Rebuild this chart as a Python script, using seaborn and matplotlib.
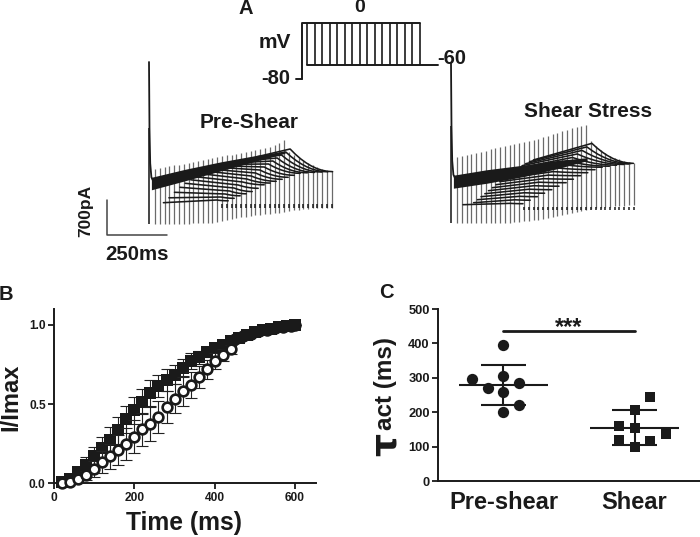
import numpy as np, pandas as pd
import matplotlib
matplotlib.use("Agg")
import matplotlib.pyplot as plt
import seaborn as sns

sns.set_theme(style="ticks")
plt.rcParams['font.family'] = ['Liberation Sans', 'DejaVu Sans']
plt.rcParams['font.weight'] = 'bold'
W, H = 700, 537

# ---------- Panel B ----------
pre_t = [20,40,60,80,100,120,140,160,180,200,220,240,260,280,300,320,340,360,380,400,420,440,460,480,500,520,540,560,580,600]
pre_i = [.01,.03,.07,.115,.17,.22,.275,.335,.405,.46,.515,.57,.615,.65,.685,.73,.77,.795,.83,.855,.875,.90,.92,.935,.955,.965,.975,.985,.99,1.0]
pre_e = [.005,.01,.03,.05,.06,.075,.08,.085,.085,.085,.08,.08,.07,.07,.06,.055,.05,.04,.03,.025,.02,.02,.015,.01,.01,.01,.005,.005,.005,0]
sh_t = [20,40,60,80,100,120,140,160,180,200,220,240,260,280,300,320,340,360,380,400,420,440]
sh_i = [.003,.01,.025,.05,.09,.135,.17,.21,.25,.295,.34,.375,.42,.48,.535,.58,.62,.67,.72,.77,.81,.845]
sh_e = [.003,.005,.015,.03,.05,.07,.08,.095,.10,.105,.105,.105,.10,.10,.09,.09,.08,.07,.06,.05,.04,.03]
end_t = [450,470,490,510,530,550,570,590,600]
end_i = [.91,.93,.945,.96,.97,.98,.988,.995,1.0]

# ---------- Panel C ----------
groups = ["Pre-shear", "Shear"]
pre_pos = [0,-.24,0,.12,-.12,0,.12,0]
pre_tau = [395,297,305,285,270,258,220,202]
shear_pos = [.12,0,-.12,0,.24,-.12,.12,0]
shear_tau = [244,207,161,153,138,118,116,98]
means = [280,155]
sds = [58,50]

# ---------- Panel A ----------
step_ms = [25,45,65,85,105,125,145,165,184,204,224,244,264,284,304,324,344,364,384,403,423,443,463,483,503,523,543,563,583,603,623,642,662,682,702,722,742,762]
pre_top = [690,700,720,740,760,770,790,810,830,840,860,880,900,920,940,960,970,990,1010,1030,1050,1070,1090,1110,1130,1170,1200,1265,1020,960,900,850,800,760,720,690,660,640]
pre_bot = [-410,-410,-410,-410,-410,-405,-405,-405,-400,-400,-400,-395,-390,-380,-360,-340,-320,-300,-280,-270,-250,-240,-230,-220,-210,-200,-190,-170,-150,-140,-130,-120,-110,-100,-100,-100,-100,-100]
sh_top = [980,1000,1020,1040,1060,1080,1100,1130,1150,1170,1190,1210,1230,1250,1270,1300,1320,1340,1370,1400,1430,1460,1490,1520,1550,1580,1600,1614,1300,1200,1120,1060,1000,960,930,900,870,850]
sh_bot = [-350,-350,-350,-350,-350,-350,-350,-350,-350,-350,-350,-340,-330,-320,-310,-300,-290,-280,-270,-250,-230,-210,-190,-170,-150,-130,-110,-90,-70,-50,-40,-30,-20,-10,0,0,10,20]
spike_ms = [0,2,5,10,20,35]
pre_spike = [2826,1500,800,520,420,380]
sh_spike = [2850,1600,900,620,520,480]
band_ms = [10,150,300,450,567]
pre_band_hi = [520,680,830,960,1030]
pre_band_lo = [270,450,650,850,1000]
sh_band_hi = [610,720,810,910,960]
sh_band_lo = [350,450,580,750,900]
pre_fan_t0 = [60,83,106,129,151,174,197,220,243,266,289,312,334,357,380,403,426,449]
pre_fan_i0 = [12,110,220,320,400,470,530,590,640,680,720,750,780,810,840,870,900,930]
pre_fan_t1 = [282,300,318,336,354,372,390,408,426,444,462,480,498,516,534,552,570,588]
pre_fan_i1 = [66,126,186,246,306,366,426,486,546,606,666,726,786,846,906,966,1026,1086]
pre_fan_t2 = [330,355,380,405,430,455,480,505,530,555,580,605,630,660,690,720,745,765]
pre_fan_i2 = [50,100,150,190,235,300,370,405,440,480,520,560,600,610,618,625,630,633]
sh_fan_t0 = [50,94,110,125,141,156,172,187,203,218,234,249,265,280,296,311,327,343]
sh_fan_i0 = [20,60,120,180,240,300,360,420,480,540,600,650,700,750,800,840,880,914]
sh_fan_t1 = [246,266,286,306,326,346,366,386,406,426,446,466,486,506,526,546,566,587]
sh_fan_i1 = [47,118,188,259,330,400,470,541,612,682,753,824,894,965,1035,1106,1176,1247]
sh_fan_t2 = [300,330,360,390,420,450,480,510,540,570,600,630,660,690,720,740,750,760]
sh_fan_i2 = [40,110,180,250,320,390,460,530,600,660,720,770,790,810,825,835,842,847]
step_x = [0,1,2,3,4,5,6,7,8,9,10,11,12,13,14,15]

fig = plt.figure(figsize=(W/100, H/100), dpi=100)

def box(x0, y0, x1, y1):
    return [x0/W, 1-y1/H, (x1-x0)/W, (y1-y0)/H]

def txt(x, y, s, size, weight='bold', **kw):
    kw.setdefault('ha', 'center')
    fig.text(x/W, 1-y/H, s, fontsize=size, fontweight=weight, va='center', color='k', **kw)

def traces(ox, baseline, spike, band_hi, band_lo, top, bot, t0, i0, t1, i1, t2, i2):
    x0, x1 = ox-9, ox+191
    y0, y1 = 60, baseline+27
    ax = fig.add_axes(box(x0, y0, x1, y1))
    ax.set_xlim((x0-ox)*250/60, (x1-ox)*250/60)
    ax.set_ylim((baseline-y1)*20, (baseline-y0)*20)
    ax.axis('off')
    rows = []
    for k in range(len(t0)):
        s = np.linspace(0, 1, 9)
        xd = t1[k] + (t2[k]-t1[k])*s
        yd = i2[k] + (i1[k]-i2[k])*(1-s)**2
        rows += [(k, t0[k], i0[k])]
        rows += [(k, a, b) for a, b in zip(xd, yd)]
    df = pd.DataFrame(rows, columns=['trace', 'ms', 'pA'])
    ax.vlines(step_ms, bot, top, color='#6a6a6a', lw=0.9, zorder=1)
    ax.vlines(step_ms[14:], [-20]*24, [-90]*24, color='k', lw=1.1, zorder=2)
    sns.lineplot(data=df, x='ms', y='pA', units='trace', estimator=None, sort=False,
                 color='k', lw=1.15, ax=ax, legend=False, zorder=3)
    ax.fill_between(band_ms, band_lo, band_hi, color='k', lw=0, zorder=4)
    ax.plot(spike_ms, spike, color='k', lw=1.3, zorder=4)
    ax.vlines([0], [bot[0]], [spike[1]], color='#444444', lw=1.4, zorder=3)
    ax.set_xlabel(''); ax.set_ylabel('')

traces(149, 203.3, pre_spike, pre_band_hi, pre_band_lo, pre_top, pre_bot,
       pre_fan_t0, pre_fan_i0, pre_fan_t1, pre_fan_i1, pre_fan_t2, pre_fan_i2)
traces(451, 205.7, sh_spike, sh_band_hi, sh_band_lo, sh_top, sh_bot,
       sh_fan_t0, sh_fan_i0, sh_fan_t1, sh_fan_i1, sh_fan_t2, sh_fan_i2)

# voltage protocol: x in steps, y in mV
vx0, vdx = 307, 7.5
vax = fig.add_axes(box(290, 15, 445, 85))
vax.set_xlim((290-vx0)/vdx, (445-vx0)/vdx)
vax.set_ylim(-80-(85-79)*80/56.5, 0+(22.5-15)*80/56.5)
vax.axis('off')
vax.vlines(step_x, -60, 0, color='k', lw=1.2)
vax.plot([-0.67, -0.67, 15], [-80, 0, 0], color='k', lw=1.4)
vax.plot([-1.5, -0.67], [-80, -80], color='k', lw=1.4)
vax.plot([0, 17.4], [-60, -60], color='k', lw=1.4)

# scale bar: 250 ms, 700 pA
sax = fig.add_axes(box(100, 190, 180, 240))
sax.set_xlim(-7*250/60, 73*250/60)
sax.set_ylim(-5*20, 45*20)
sax.axis('off')
sax.plot([0, 0, 250], [700, 0, 0], color='#444444', lw=1.1)

txt(246, 9, "A", 14.5)
txt(360, 8, "0", 14)
txt(275, 43, "mV", 15)
txt(276, 79, "-80", 14.5)
txt(452, 58, "-60", 14.5)
txt(249, 122, "Pre-Shear", 15)
txt(588, 111, "Shear Stress", 15)
txt(137, 254, "250ms", 14.7)
txt(86, 211, "700pA", 12.5, rotation=90)
txt(6, 294, "B", 14.5)
txt(386, 293, "C", 14.5)

# Panel B
ax = fig.add_axes(box(54, 309, 316, 483.3))
ax.set_xlim(0, 652); ax.set_ylim(0, 1.10)
ax.errorbar(pre_t, pre_i, yerr=pre_e, fmt='none', ecolor='#222222', elinewidth=0.8, capsize=4, capthick=0.8, zorder=2)
sns.lineplot(x=pre_t, y=pre_i, color='k', lw=0, marker='s', markersize=8.2, markeredgewidth=0, ax=ax, zorder=3)
sns.lineplot(x=end_t, y=end_i, color='k', lw=0, marker='o', markersize=9, markeredgewidth=0, ax=ax, zorder=3)
ax.errorbar(sh_t, sh_i, yerr=sh_e, fmt='none', ecolor='#222222', elinewidth=0.8, capsize=4, capthick=0.8, zorder=4)
sns.lineplot(x=sh_t, y=sh_i, color='k', lw=0, marker='o', markersize=7, markeredgewidth=1.9,
             markerfacecolor='white', markeredgecolor='k', ax=ax, zorder=5)
ax.set_xticks([0,200,400,600]); ax.set_yticks([0,.5,1.0])
ax.set_yticklabels(['0.0','0.5','1.0'])
ax.tick_params(labelsize=8.6, width=1.3, length=4, pad=2, colors='k')
for l in ax.get_xticklabels()+ax.get_yticklabels(): l.set_fontweight('bold')
sns.despine(ax=ax)
for s in ('left','bottom'): ax.spines[s].set_linewidth(1.4); ax.spines[s].set_color('k')
for a in ax.get_children():
    if hasattr(a,'set_clip_on'): a.set_clip_on(False)
ax.set_xlabel(''); ax.set_ylabel('')
txt(184, 523, "Time (ms)", 17.7)
txt(11, 397, "I/Imax", 17, rotation=90)

# Panel C
ax = fig.add_axes(box(438, 309, 700, 481))
ax.set_xlim(-.5, 1.5); ax.set_ylim(0, 500)
sns.scatterplot(x=pre_pos, y=pre_tau, color='k', marker='o', s=66, linewidth=0, ax=ax, zorder=3, clip_on=False)
sns.scatterplot(x=[1+p for p in shear_pos], y=shear_tau, color='k', marker='s', s=60, linewidth=0, ax=ax, zorder=3, clip_on=False)
for i in range(2):
    ax.hlines(means[i], i-.34, i+.34, color='k', lw=1.5)
    ax.hlines([means[i]-sds[i], means[i]+sds[i]], i-.175, i+.175, color='k', lw=1.5)
    ax.vlines(i, means[i]-sds[i], means[i]+sds[i], color='k', lw=1.5)
ax.plot([0,1],[435,435], color='k', lw=2)
ax.text(.5, 445, "***", ha='center', va='center', fontsize=17, fontweight='bold', color='k')
ax.set_xticks([0,1]); ax.set_xticklabels(groups, fontsize=17, fontweight='bold')
ax.set_yticks(range(0,501,100))
ax.tick_params(axis='y', labelsize=9.3, width=1.3, length=4, pad=2, colors='k')
ax.tick_params(axis='x', length=0, pad=7, colors='k')
for l in ax.get_yticklabels(): l.set_fontweight('bold')
sns.despine(ax=ax)
for s in ('left','bottom'): ax.spines[s].set_linewidth(1.4); ax.spines[s].set_color('k')
txt(386, 444, "τ", 26, weight='bold', rotation=90, family=['DejaVu Sans'])
txt(386, 384, "act (ms)", 17.5, rotation=90)

fig.savefig("out.png", dpi=100)
